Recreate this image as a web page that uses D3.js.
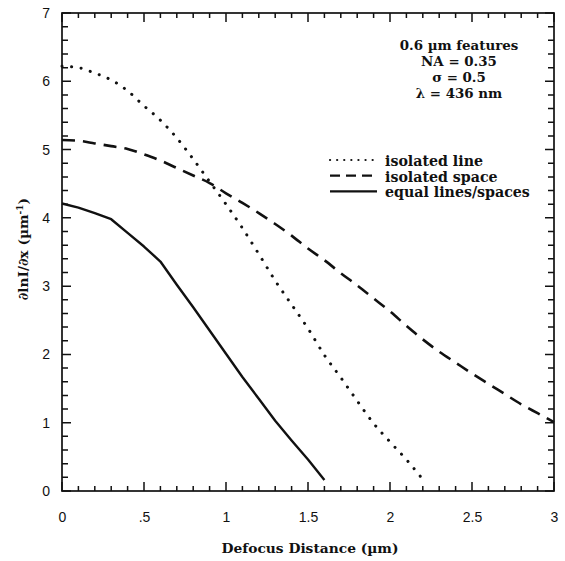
<!DOCTYPE html>
<html>
<head>
<meta charset="utf-8">
<script src="https://cdn.jsdelivr.net/npm/d3@7"></script>
<style>
  html, body { margin: 0; padding: 0; background: #fff; }
  svg { display: block; }
  .tick text { font-family: "Liberation Sans", Arial, sans-serif; font-size: 14px; fill: #111; }
  .serif { font-family: "DejaVu Serif", serif; font-weight: bold; fill: #111; }
</style>
</head>
<body>
<svg id="chart" width="565" height="561"></svg>
<script>
// Defocus distance samples (µm) for each curve
const defocusLine  = [0, 0.1, 0.2, 0.3, 0.4, 0.5, 0.6, 0.7, 0.8, 0.9, 1.0, 1.1, 1.2, 1.3, 1.4, 1.5, 1.6, 1.7, 1.8, 1.9, 2.0, 2.1, 2.2];
const isolatedLine = [6.22, 6.20, 6.12, 6.02, 5.86, 5.64, 5.43, 5.17, 4.86, 4.53, 4.20, 3.85, 3.47, 3.08, 2.73, 2.38, 1.99, 1.66, 1.32, 0.99, 0.72, 0.46, 0.17];

const defocusSpace  = [0, 0.1, 0.2, 0.3, 0.4, 0.5, 0.6, 0.7, 0.8, 0.9, 1.0, 1.1, 1.2, 1.3, 1.4, 1.5, 1.6, 1.7, 1.8, 1.9, 2.0, 2.1, 2.2, 2.3, 2.4, 2.5, 2.6, 2.7, 2.8, 2.9, 3.0];
const isolatedSpace = [5.14, 5.13, 5.09, 5.05, 5.01, 4.93, 4.84, 4.73, 4.62, 4.51, 4.36, 4.22, 4.07, 3.91, 3.74, 3.55, 3.38, 3.19, 3.01, 2.82, 2.63, 2.42, 2.22, 2.04, 1.88, 1.72, 1.57, 1.42, 1.27, 1.14, 1.01];

const defocusEqual = [0, 0.1, 0.2, 0.3, 0.4, 0.5, 0.6, 0.7, 0.8, 0.9, 1.0, 1.1, 1.2, 1.3, 1.4, 1.5, 1.6];
const equalLines   = [4.21, 4.15, 4.07, 3.98, 3.78, 3.58, 3.36, 3.02, 2.69, 2.35, 2.01, 1.67, 1.35, 1.03, 0.74, 0.46, 0.16];

const xTickValues = [0, 0.5, 1, 1.5, 2, 2.5, 3];
const xTickLabels = ["0", ".5", "1", "1.5", "2", "2.5", "3"];
const yTickValues = [0, 1, 2, 3, 4, 5, 6, 7];

const legendLabels = ["isolated line", "isolated space", "equal lines/spaces"];
const conditions = ["0.6 \u00b5m features", "NA = 0.35", "\u03c3 = 0.5", "\u03bb = 436 nm"];

const svg = d3.select("#chart");
const plotLeft = 62, plotRight = 554, plotTop = 13, plotBottom = 491;

const x = d3.scaleLinear().domain([0, 3]).range([plotLeft, plotRight]);
const y = d3.scaleLinear().domain([0, 7]).range([plotBottom, plotTop]);

const minorX = d3.range(0, 31).map(i => i / 10);
const minorY = d3.range(0, 36).map(i => i / 5);
const isMajor = v => Math.abs(v * 2 - Math.round(v * 2)) < 1e-6;
const isInt = v => Math.abs(v - Math.round(v)) < 1e-6;

// Frame
svg.append("rect")
  .attr("x", plotLeft).attr("y", plotTop)
  .attr("width", plotRight - plotLeft).attr("height", plotBottom - plotTop)
  .attr("fill", "none").attr("stroke", "#111").attr("stroke-width", 1.7);

// Inward tick marks on all four sides, drawn as one path per side
const tickPath = (vals, fn) => vals.map(fn).join("");
const ticks = svg.append("g").attr("fill", "none").attr("stroke", "#111").attr("stroke-width", 1.5);
ticks.append("path").attr("d", tickPath(minorX, d =>
  `M${x(d)},${plotBottom}V${plotBottom - (isMajor(d) ? 9 : 5)}`));
ticks.append("path").attr("d", tickPath(minorX, d =>
  `M${x(d)},${plotTop}V${plotTop + (isMajor(d) ? 9 : 5)}`));
ticks.append("path").attr("d", tickPath(minorY, d =>
  `M${plotLeft},${y(d)}H${plotLeft + (isInt(d) ? 9 : 6)}`));
ticks.append("path").attr("d", tickPath(minorY, d =>
  `M${plotRight},${y(d)}H${plotRight - (isInt(d) ? 9 : 6)}`));

// Tick labels
svg.append("g").attr("transform", `translate(0,${plotBottom})`)
  .call(d3.axisBottom(x).tickValues(xTickValues).tickSize(0).tickPadding(21)
    .tickFormat((d, i) => xTickLabels[i]))
  .call(g => g.select(".domain").remove());
svg.append("g").attr("transform", `translate(${plotLeft},0)`)
  .call(d3.axisLeft(y).tickValues(yTickValues).tickSize(0).tickPadding(12)
    .tickFormat(d3.format("d")))
  .call(g => g.select(".domain").remove());

// Curves
const series = [
  { xs: defocusLine,  ys: isolatedLine,  curve: d3.curveMonotoneX, dash: "0.1,9.5", legendDash: "0.1,7", width: 3,   cap: "round" },
  { xs: defocusSpace, ys: isolatedSpace, curve: d3.curveMonotoneX, dash: "13,8",    legendDash: "10,6",  width: 2.6, cap: "butt" },
  { xs: defocusEqual, ys: equalLines,    curve: d3.curveLinear,    dash: null,      legendDash: null,    width: 2.4, cap: "butt" }
];

series.forEach(s => {
  const line = d3.line().x(d => x(d[0])).y(d => y(d[1])).curve(s.curve);
  svg.append("path")
    .datum(s.xs.map((v, i) => [v, s.ys[i]]))
    .attr("d", line)
    .attr("fill", "none")
    .attr("stroke", "#111")
    .attr("stroke-width", s.width)
    .attr("stroke-linecap", s.cap)
    .attr("stroke-linejoin", "round")
    .attr("stroke-dasharray", s.dash);
});

// Legend
const legend = svg.append("g");
series.forEach((s, i) => {
  const ly = 160 + i * 15.7;
  legend.append("line")
    .attr("x1", 330).attr("x2", 377)
    .attr("y1", ly).attr("y2", ly)
    .attr("stroke", "#111")
    .attr("stroke-width", 2.2)
    .attr("stroke-linecap", s.cap)
    .attr("stroke-dasharray", s.legendDash);
  legend.append("text")
    .attr("class", "serif")
    .attr("x", 385).attr("y", ly + 6)
    .attr("font-size", 14.2)
    .text(legendLabels[i]);
});

// Conditions block
svg.append("g").selectAll("text")
  .data(conditions)
  .join("text")
  .attr("class", "serif")
  .attr("x", 459)
  .attr("y", (d, i) => 50 + i * 16)
  .attr("text-anchor", "middle")
  .attr("font-size", 13.4)
  .text(d => d);

// Axis titles
svg.append("text")
  .attr("class", "serif")
  .attr("x", 310)
  .attr("y", 553)
  .attr("text-anchor", "middle")
  .attr("font-size", 13.8)
  .text("Defocus Distance (\u00b5m)");

const yTitle = svg.append("text")
  .attr("class", "serif")
  .attr("transform", `translate(28,249) rotate(-90)`)
  .attr("text-anchor", "middle")
  .attr("font-size", 13.8);
yTitle.append("tspan").text("\u2202lnI/\u2202x (\u00b5m");
yTitle.append("tspan").attr("font-size", 9).attr("dy", -5).text("-1");
yTitle.append("tspan").attr("dy", 5).text(")");
</script>
</body>
</html>
